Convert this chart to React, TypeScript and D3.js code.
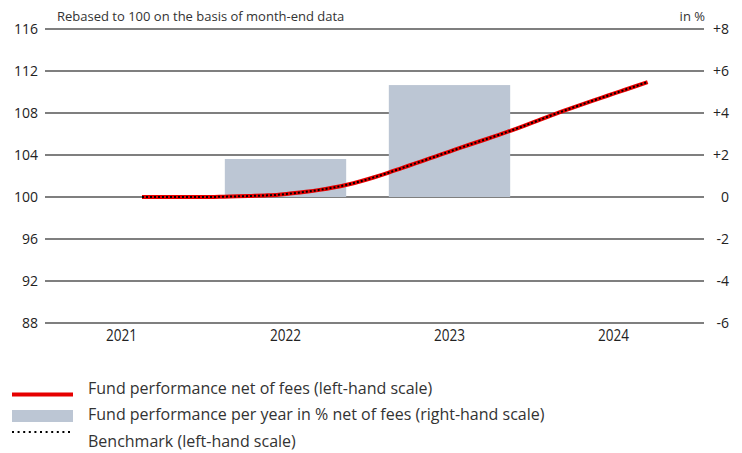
import React from "react";
import * as d3 from "d3";

const W = 742;
const H = 453;

const years = [2021, 2022, 2023, 2024];
const leftTicks = [88, 92, 96, 100, 104, 108, 112, 116];
const rightTicks = [-6, -4, -2, 0, 2, 4, 6, 8];
const rightTickLabels = ["-6", "-4", "-2", "0", "+2", "+4", "+6", "+8"];

const barYears = [2022, 2023];
const barValues = [1.81, 5.33];

// month-end data, Aug 2021 .. Sep 2024
const months = [
  "2021-08", "2021-09", "2021-10", "2021-11", "2021-12",
  "2022-01", "2022-02", "2022-03", "2022-04", "2022-05", "2022-06",
  "2022-07", "2022-08", "2022-09", "2022-10", "2022-11", "2022-12",
  "2023-01", "2023-02", "2023-03", "2023-04", "2023-05", "2023-06",
  "2023-07", "2023-08", "2023-09", "2023-10", "2023-11", "2023-12",
  "2024-01", "2024-02", "2024-03", "2024-04", "2024-05", "2024-06",
  "2024-07", "2024-08", "2024-09",
];
const fundValues = [
  100.0, 100.0, 100.0, 100.0, 100.0,
  100.0, 100.03, 100.06, 100.1, 100.15, 100.22,
  100.35, 100.5, 100.68, 100.9, 101.17, 101.5,
  101.88, 102.3, 102.75, 103.2, 103.65, 104.1,
  104.55, 105.0, 105.43, 105.87, 106.32, 106.8,
  107.3, 107.8, 108.27, 108.73, 109.18, 109.62,
  110.06, 110.5, 110.95,
];
const benchmarkValues = fundValues.slice();

const legendItems = [
  "Fund performance net of fees (left-hand scale)",
  "Fund performance per year in % net of fees (right-hand scale)",
  "Benchmark (left-hand scale)",
];

const FONT = "'Open Sans', 'Noto Sans', sans-serif";
const RED = "#e60000";
const BAR = "#bcc6d4";
const GRID = "#7f7f7f";
const TXT = "#222222";

const monthToT = (m: string) => {
  const [y, mo] = m.split("-").map(Number);
  return y + (mo - 0.5) / 12;
};

export default function App() {
  const x = d3.scaleLinear().domain([2021, 2025]).range([39.5, 695.5]);
  const yL = d3.scaleLinear().domain([88, 116]).range([323, 29]);
  const yR = d3.scaleLinear().domain([-6, 8]).range([323, 29]);

  const gridX0 = 45;
  const gridX1 = 704;

  const line = d3
    .line<number>()
    .x((_, i) => x(monthToT(months[i])))
    .y((d) => yL(d))
    .curve(d3.curveMonotoneX);

  const fundPath = line(fundValues) || "";
  const benchPath = line(benchmarkValues) || "";

  const barPad = 0.13;

  return (
    <svg
      width={W}
      height={H}
      style={{ position: "absolute", left: 0, top: 0, background: "#fff" }}
      fontFamily={FONT}
    >
      <rect x={0} y={0} width={W} height={H} fill="#fff" />
      {leftTicks.map((t) => (
        <line
          key={t}
          x1={gridX0}
          x2={gridX1}
          y1={yL(t)}
          y2={yL(t)}
          stroke={GRID}
          strokeWidth={2}
        />
      ))}
      {barYears.map((yr, i) => {
        const v = barValues[i];
        const x0 = x(yr + barPad);
        const x1 = x(yr + 1 - barPad);
        return (
          <rect
            key={yr}
            x={x0}
            width={x1 - x0}
            y={Math.min(yR(v), yR(0))}
            height={Math.abs(yR(0) - yR(v))}
            fill={BAR}
          />
        );
      })}
      <path d={fundPath} fill="none" stroke={RED} strokeWidth={4} />
      <path
        d={benchPath}
        fill="none"
        stroke="#000"
        strokeWidth={2}
        strokeDasharray="2,2"
      />
      {leftTicks.map((t) => (
        <text
          key={t}
          x={38}
          y={yL(t)}
          dy="0.35em"
          textAnchor="end"
          fontSize={14}
          fill={TXT}
        >
          {t}
        </text>
      ))}
      {rightTicks.map((t, i) => (
        <text
          key={t}
          x={729}
          y={yR(t)}
          dy="0.35em"
          textAnchor="end"
          fontSize={14}
          fill={TXT}
        >
          {rightTickLabels[i]}
        </text>
      ))}
      {years.map((yr) => (
        <text
          key={yr}
          x={x(yr + 0.5)}
          y={341}
          textAnchor="middle"
          fontSize={16}
          textLength={31}
          lengthAdjust="spacingAndGlyphs"
          fill={TXT}
        >
          {yr}
        </text>
      ))}
      <text x={57} y={21} fontSize={13} fill="#333">
        Rebased to 100 on the basis of month-end data
      </text>
      <text x={705} y={21} fontSize={13} textAnchor="end" fill="#333">
        in %
      </text>
      <line x1={12} x2={73} y1={394.5} y2={394.5} stroke={RED} strokeWidth={4} />
      <rect x={12} y={410} width={61} height={12} fill={BAR} />
      <line
        x1={12}
        x2={70}
        y1={432}
        y2={432}
        stroke="#000"
        strokeWidth={2}
        strokeDasharray="2,3.6"
      />
      {legendItems.map((t, i) => (
        <text key={i} x={88} y={394 + i * 26.3} fontSize={16} fill="#333">
          {t}
        </text>
      ))}
    </svg>
  );
}
